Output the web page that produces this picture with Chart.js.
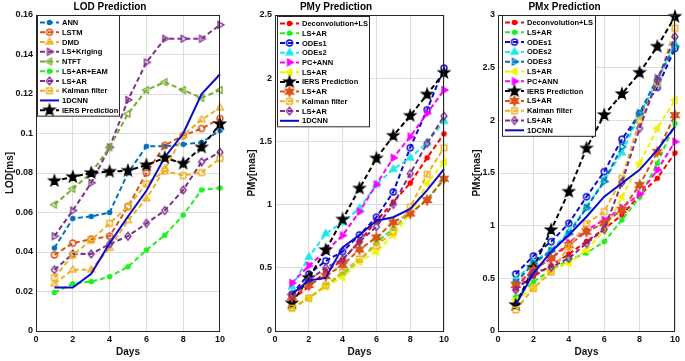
<!DOCTYPE html>
<html>
<head>
<meta charset="utf-8">
<script src="https://cdn.jsdelivr.net/npm/chart.js@4.4.0/dist/chart.umd.min.js"></script>
<style>
  html, body { margin: 0; padding: 0; background: #fff; }
  #wrap { position: relative; width: 685px; height: 361px; overflow: hidden; }
  canvas { position: absolute; top: 0; }
</style>
</head>
<body>
<div id="wrap">
  <canvas id="lod" style="left:0px" width="228" height="361"></canvas>
  <canvas id="pmy" style="left:228px" width="226" height="361"></canvas>
  <canvas id="pmx" style="left:454px" width="231" height="361"></canvas>
</div>
<script>
// x values shared by all panels
const days = [1, 2, 3, 4, 5, 6, 7, 8, 9, 10];

// LOD prediction [ms]
const lodAnn     = [0.042, 0.057, 0.058, 0.060, 0.080, 0.0935, 0.0935, 0.0945, 0.0955, 0.1015];
const lodLstm    = [0.0385, 0.0445, 0.0465, 0.048, 0.063, 0.080, 0.094, 0.099, 0.1025, 0.1075];
const lodDmd     = [0.024, 0.031, 0.031, 0.042, 0.056, 0.067, 0.082, 0.099, 0.107, 0.113];
const lodKriging = [0.048, 0.061, 0.075, 0.093, 0.117, 0.136, 0.148, 0.148, 0.148, 0.155];
const lodNtft    = [0.064, 0.072, 0.080, 0.093, 0.110, 0.122, 0.126, 0.122, 0.118, 0.122];
const lodLsArEam = [0.0195, 0.024, 0.025, 0.0275, 0.0325, 0.041, 0.0485, 0.0587, 0.0714, 0.0724];
const lodLsAr    = [0.031, 0.039, 0.039, 0.044, 0.048, 0.0545, 0.061, 0.0714, 0.0856, 0.0905];
const lodKalman  = [0.027, 0.0385, 0.046, 0.0545, 0.063, 0.0745, 0.081, 0.0787, 0.0802, 0.0874];
const lodCnn     = [0.022, 0.022, 0.029, 0.0444, 0.058, 0.071, 0.088, 0.100, 0.120, 0.130];
const lodIers    = [0.076, 0.078, 0.080, 0.0807, 0.0812, 0.084, 0.0877, 0.0848, 0.093, 0.1048];

// PMy prediction [mas]
const pmyDeconv = [0.25, 0.35, 0.47, 0.56, 0.71, 0.87, 1.02, 1.17, 1.37, 1.56];
const pmyLsArG  = [0.18, 0.26, 0.36, 0.45, 0.55, 0.70, 0.81, 0.93, 1.04, 1.20];
const pmyOdes1  = [0.29, 0.45, 0.555, 0.628, 0.76, 0.90, 1.10, 1.45, 1.75, 2.08];
const pmyOdes2  = [0.35, 0.585, 0.77, 0.86, 0.97, 1.16, 1.28, 1.37, 1.49, 1.66];
const pmyPcAnn  = [0.38, 0.517, 0.63, 0.756, 0.944, 1.16, 1.37, 1.537, 1.722, 1.906];
const pmyLsArY  = [0.19, 0.258, 0.351, 0.424, 0.548, 0.628, 0.759, 0.93, 1.168, 1.339];
const pmyIers   = [0.22, 0.42, 0.641, 0.883, 1.128, 1.366, 1.545, 1.703, 1.872, 2.043];
const pmyLsArO  = [0.27, 0.364, 0.435, 0.522, 0.645, 0.74, 0.86, 0.93, 1.036, 1.205];
const pmyKalman = [0.18, 0.26, 0.36, 0.469, 0.57, 0.675, 0.786, 0.98, 1.24, 1.45];
const pmyLsArP  = [0.28, 0.403, 0.5, 0.567, 0.706, 0.825, 1.002, 1.245, 1.485, 1.70];
const pmyCnn    = [0.29, 0.40, 0.42, 0.662, 0.759, 0.873, 0.90, 0.965, 1.115, 1.28];

// PMx prediction [mas]
const pmxDeconv = [0.40, 0.52, 0.62, 0.73, 0.85, 0.97, 1.10, 1.29, 1.45, 1.69];
const pmxLsArG  = [0.32, 0.468, 0.579, 0.674, 0.74, 0.848, 1.054, 1.27, 1.59, 1.97];
const pmxOdes1  = [0.541, 0.712, 0.848, 1.022, 1.275, 1.513, 1.82, 2.06, 2.313, 2.684];
const pmxOdes2  = [0.484, 0.658, 0.769, 0.943, 1.174, 1.434, 1.693, 2.05, 2.38, 2.73];
const pmxOdes3  = [0.46, 0.64, 0.76, 0.92, 1.17, 1.42, 1.75, 2.07, 2.40, 2.70];
const pmxLsArY  = [0.294, 0.405, 0.579, 0.643, 0.769, 0.95, 1.275, 1.59, 1.924, 2.193];
const pmxPcAnn  = [0.42, 0.58, 0.69, 0.838, 0.959, 1.054, 1.17, 1.30, 1.529, 1.797];
const pmxIers   = [0.247, 0.60, 0.959, 1.323, 1.734, 2.051, 2.25, 2.452, 2.70, 2.984];
const pmxLsArO  = [0.437, 0.579, 0.69, 0.816, 0.943, 1.022, 1.149, 1.386, 1.70, 2.05];
const pmxKalman = [0.20, 0.405, 0.56, 0.80, 1.02, 1.133, 1.45, 2.00, 2.35, 2.874];
const pmxLsArP  = [0.389, 0.55, 0.605, 0.69, 0.832, 0.965, 1.41, 1.924, 2.383, 2.794];
const pmxCnn    = [0.247, 0.547, 0.753, 0.911, 1.085, 1.275, 1.402, 1.53, 1.72, 1.94];

const F = '"Liberation Sans", Arial, sans-serif';
const C = {
  blue: '#0072BD', orange: '#D95319', yellow: '#EDB120', purple: '#7E2F8E',
  olive: '#77AC30', lime: '#22ee22', navy: '#0a0ad0', red: '#ff0000',
  cyan: '#1ee8e8', magenta: '#ff00ff', yel2: '#f2f200', black: '#000000'
};

// marker glyphs drawn once on small canvases, used as pointStyle
function marker(shape, color, filled) {
  const r = { dot: 2.1, circle: 3, up: 3.9, right: 3.9, left: 3.9, diamond: 3.9,
              square: 2.8, hex: 4.7, star: 5.6 }[shape];
  const s = Math.ceil(r * 2 + 4);
  const c = document.createElement('canvas');
  c.width = s; c.height = s;
  const g = c.getContext('2d');
  g.translate(s / 2, s / 2);
  g.strokeStyle = color; g.fillStyle = color; g.lineWidth = 1.4;
  g.beginPath();
  const poly = (n, a0, rx, ry) => {
    for (let k = 0; k < n; k++) {
      const a = a0 + k * 2 * Math.PI / n;
      const x = Math.cos(a) * rx, y = Math.sin(a) * ry;
      k ? g.lineTo(x, y) : g.moveTo(x, y);
    }
    g.closePath();
  };
  const starPath = (n, ro, ri) => {
    for (let k = 0; k < 2 * n; k++) {
      const a = -Math.PI / 2 + k * Math.PI / n;
      const rr = k % 2 ? ri : ro;
      k ? g.lineTo(Math.cos(a) * rr, Math.sin(a) * rr) : g.moveTo(Math.cos(a) * rr, Math.sin(a) * rr);
    }
    g.closePath();
  };
  if (shape === 'dot' || shape === 'circle') g.arc(0, 0, r, 0, Math.PI * 2);
  else if (shape === 'up') poly(3, -Math.PI / 2, r, r);
  else if (shape === 'right') poly(3, 0, r, r);
  else if (shape === 'left') poly(3, Math.PI, r, r);
  else if (shape === 'diamond') poly(4, 0, r * 0.75, r);
  else if (shape === 'square') g.rect(-r, -r, 2 * r, 2 * r);
  else if (shape === 'hex') starPath(6, r, r * 0.5);
  else if (shape === 'star') starPath(5, r, r * 0.4);
  if (filled || shape === 'dot') g.fill();
  g.stroke();
  return c;
}

// axes box and in-axes legend, MATLAB style
const boxLegend = {
  id: 'boxLegend',
  afterDatasetsDraw(chart, args, o) {
    const ctx = chart.ctx, a = chart.chartArea;
    ctx.save();
    ctx.strokeStyle = '#262626'; ctx.lineWidth = 1; ctx.setLineDash([]);
    ctx.strokeRect(Math.round(a.left) + 0.5, Math.round(a.top) + 0.5,
      Math.round(a.right - a.left) - 1, Math.round(a.bottom - a.top));

    const ds = chart.data.datasets;
    const x0 = Math.round(a.left + o.dx) + 0.5, y0 = Math.round(a.top + o.dy) + 0.5;
    const h = 7 * 2 + (ds.length - 1) * o.row - 1;
    ctx.fillStyle = '#fff';
    ctx.fillRect(x0, y0, o.w, h);
    ctx.strokeRect(x0, y0, o.w, h);
    ctx.font = 'bold 7.5px ' + F;
    ctx.textBaseline = 'middle';
    ds.forEach((d, i) => {
      const y = y0 + 7 + i * o.row;
      ctx.strokeStyle = d.borderColor;
      ctx.lineWidth = d.borderWidth;
      ctx.setLineDash(d.borderDash || []);
      ctx.beginPath();
      ctx.moveTo(x0 + 2.5, y); ctx.lineTo(x0 + 21.5, y);
      ctx.stroke();
      if (d.pointStyle) {
        const m = d.pointStyle;
        ctx.drawImage(m, x0 + 12 - m.width / 2, y - m.height / 2);
      }
      ctx.fillStyle = '#000';
      ctx.fillText(d.label, x0 + 24.5, y + 0.5);
    });
    ctx.restore();
  }
};

function series(label, data, color, shape, filled) {
  return { label, data, color, shape, filled };
}

function makeChart(id, cfg) {
  const n = cfg.series.length;
  return new Chart(document.getElementById(id), {
    type: 'line',
    data: {
      datasets: cfg.series.map((s, i) => ({
        label: s.label,
        data: days.map((d, k) => ({ x: d, y: s.data[k] })),
        borderColor: s.color,
        borderWidth: 2,
        borderDash: s.shape ? [5, 3] : [],
        pointStyle: s.shape ? marker(s.shape, s.color, s.filled) : false,
        pointRadius: s.shape ? 3 : 0,
        fill: false,
        tension: 0,
        clip: false,
        order: n - i
      }))
    },
    options: {
      responsive: false,
      animation: false,
      events: [],
      layout: { padding: { left: 0, right: cfg.padRight, top: 0, bottom: 0 } },
      plugins: {
        legend: { display: false },
        tooltip: { enabled: false },
        title: {
          display: true, text: cfg.title, color: '#000',
          font: { family: F, size: 10, weight: 'bold' },
          padding: { top: 1, bottom: 2 }
        },
        boxLegend: cfg.legend
      },
      scales: {
        x: {
          type: 'linear', min: 0, max: 10,
          afterFit: s => { s.height = 30; },
          ticks: { stepSize: 2, color: '#111', maxRotation: 0, padding: 3,
                   font: { family: F, size: 9, weight: 'bold' } },
          grid: { color: '#dedede', drawTicks: false },
          border: { display: false },
          title: { display: true, text: 'Days', color: '#111',
                   font: { family: F, size: 10, weight: 'bold' },
                   padding: { top: 0, bottom: 3 } }
        },
        y: {
          min: 0, max: cfg.ymax,
          afterFit: s => { s.width = cfg.yw; },
          ticks: { stepSize: cfg.ystep, color: '#111', padding: 3,
                   font: { family: F, size: 9, weight: 'bold' },
                   callback: v => String(+v.toFixed(2)) },
          grid: { color: '#dedede', drawTicks: false },
          border: { display: false },
          title: { display: true, text: cfg.ylabel, color: '#111',
                   font: { family: F, size: 10, weight: 'bold' },
                   padding: { top: cfg.ylabelPad, bottom: 0 } }
        }
      }
    },
    plugins: [boxLegend]
  });
}

makeChart('lod', {
  title: 'LOD Prediction', ylabel: 'LOD[ms]', ymax: 0.16, ystep: 0.02,
  yw: 36, ylabelPad: 4, padRight: 8,
  legend: { dx: 1, dy: 0, w: 82, row: 9.74 },
  series: [
    series('ANN', lodAnn, C.blue, 'dot'),
    series('LSTM', lodLstm, C.orange, 'circle'),
    series('DMD', lodDmd, C.yellow, 'up'),
    series('LS+Kriging', lodKriging, C.purple, 'right'),
    series('NTFT', lodNtft, C.olive, 'left'),
    series('LS+AR+EAM', lodLsArEam, C.lime, 'dot'),
    series('LS+AR', lodLsAr, C.purple, 'diamond'),
    series('Kalman filter', lodKalman, C.yellow, 'square'),
    series('1DCNN', lodCnn, C.navy, null),
    series('IERS Prediction', lodIers, C.black, 'star', true)
  ]
});

makeChart('pmy', {
  title: 'PMy Prediction', ylabel: 'PMy[mas]', ymax: 2.5, ystep: 0.5,
  yw: 47, ylabelPad: 18, padRight: 10,
  legend: { dx: 2, dy: 1, w: 92, row: 9.73 },
  series: [
    series('Deconvolution+LS', pmyDeconv, C.red, 'dot'),
    series('LS+AR', pmyLsArG, C.lime, 'dot'),
    series('ODEs1', pmyOdes1, C.navy, 'circle'),
    series('ODEs2', pmyOdes2, C.cyan, 'up', true),
    series('PC+ANN', pmyPcAnn, C.magenta, 'right', true),
    series('LS+AR', pmyLsArY, C.yel2, 'left', true),
    series('IERS Prediction', pmyIers, C.black, 'star', true),
    series('LS+AR', pmyLsArO, C.orange, 'hex', true),
    series('Kalman filter', pmyKalman, C.yellow, 'square'),
    series('LS+AR', pmyLsArP, C.purple, 'diamond'),
    series('1DCNN', pmyCnn, C.navy, null)
  ]
});

makeChart('pmx', {
  title: 'PMx Prediction', ylabel: 'PMx[mas]', ymax: 3, ystep: 0.5,
  yw: 44, ylabelPad: 17, padRight: 10,
  legend: { dx: 3.5, dy: 0, w: 93, row: 9.8 },
  series: [
    series('Deconvolution+LS', pmxDeconv, C.red, 'dot'),
    series('LS+AR', pmxLsArG, C.lime, 'dot'),
    series('ODEs1', pmxOdes1, C.navy, 'circle'),
    series('ODEs2', pmxOdes2, C.cyan, 'up', true),
    series('ODEs3', pmxOdes3, C.blue, 'right'),
    series('LS+AR', pmxLsArY, C.yel2, 'left', true),
    series('PC+ANN', pmxPcAnn, C.magenta, 'right', true),
    series('IERS Prediction', pmxIers, C.black, 'star', true),
    series('LS+AR', pmxLsArO, C.orange, 'hex', true),
    series('Kalman filter', pmxKalman, C.yellow, 'square'),
    series('LS+AR', pmxLsArP, C.purple, 'diamond'),
    series('1DCNN', pmxCnn, C.navy, null)
  ]
});
</script>
</body>
</html>
